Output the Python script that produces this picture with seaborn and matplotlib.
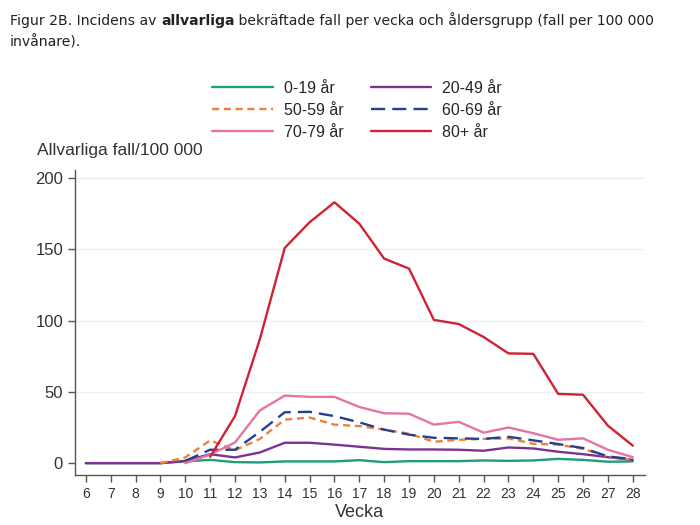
import numpy as np
import pandas as pd
import matplotlib
matplotlib.use("Agg")
import matplotlib.pyplot as plt
import seaborn as sns

# week numbers on the x axis
weeks = [6, 7, 8, 9, 10, 11, 12, 13, 14, 15, 16, 17, 18, 19, 20, 21, 22, 23, 24, 25, 26, 27, 28]
nan = np.nan

# incidence of severe cases per 100 000
age_0_19 = [0, 0, 0, 0, 1.2, 2.3, 0.7, 0.5, 1.2, 1.2, 1.2, 2.1, 0.7, 1.4, 1.4, 1.4, 1.9, 1.6, 1.9, 3, 2.3, 1, 1.2]
age_20_49 = [0, 0, 0, 0, 1.6, 6.3, 4, 7.5, 14.3, 14.3, 13, 11.5, 10, 9.6, 9.6, 9.4, 8.7, 11, 10.3, 8, 6.3, 4.2, 2.3]
age_50_59 = [nan, nan, nan, 0, 4, 16, 9, 17, 30.5, 32, 27, 26, 23.5, 20.7, 15, 16.4, 17, 17.4, 13.6, 13, 10, 4.7, 2.3]
age_60_69 = [nan, nan, nan, nan, 1.6, 9.4, 9.4, 22, 35.7, 36, 33, 28.6, 23.5, 20, 17.8, 17.4, 17, 18.5, 16, 13.4, 10.6, 4.7, 2.8]
age_70_79 = [nan, nan, nan, nan, 0, 6, 14.5, 37, 47.4, 46.5, 46.5, 39.4, 35, 34.7, 27, 29, 21.4, 25, 21, 16.4, 17.4, 9.4, 4.2]
age_80 = [nan, nan, nan, nan, nan, 4.5, 33, 87, 151, 169, 183, 168, 143.5, 136.5, 100.5, 97.6, 88.5, 77, 76.7, 48.6, 48, 26.3, 12.3]

groups = ["0-19 år", "20-49 år", "50-59 år", "60-69 år", "70-79 år", "80+ år"]
series = [age_0_19, age_20_49, age_50_59, age_60_69, age_70_79, age_80]
colors = ["#1f9e7a", "#7b3294", "#f07f3a", "#24408f", "#e474a6", "#cf2234"]
dash_styles = [None, None, (3, 2), (6, 3), None, None]

sns.set_style("white")
plt.rcParams['font.family'] = ['Liberation Sans', 'DejaVu Sans']

fig = plt.figure(figsize=(7, 5.25), dpi=100)
ax = fig.add_axes([0.107, 0.095, 0.814, 0.581])

for y in [50, 100, 150, 200]:
    ax.axhline(y, color="#e9f1f3", lw=1, zorder=0)

lines = {}
for name, vals, col, dsh in zip(groups, series, colors, dash_styles):
    df = pd.DataFrame({'week': weeks, 'value': vals}).dropna()
    sns.lineplot(data=df, x='week', y='value', ax=ax, color=col, lw=1.7, label=name)
    ln = ax.get_lines()[-1]
    if dsh is not None:
        ln.set_dashes(dsh)
    lines[name] = ln

ax.set_xlim(5.56, 28.48)
ax.set_ylim(-8.4, 205.6)
ax.set_xticks(weeks)
ax.set_xticklabels([str(w) for w in weeks], fontsize=10, color="#333333")
ax.set_yticks([0, 50, 100, 150, 200])
ax.set_yticklabels(["0", "50", "100", "150", "200"], fontsize=12, color="#333333")
ax.tick_params(axis='both', direction='out', length=5, width=1, color="#555555", bottom=True, left=True)
ax.set_xlabel("Vecka", fontsize=13, color="#333333", labelpad=2)
ax.set_ylabel("")
for s in ['top', 'right']:
    ax.spines[s].set_visible(False)
for s in ['left', 'bottom']:
    ax.spines[s].set_color("#555555")
    ax.spines[s].set_linewidth(1)

ax.get_legend().remove()
order = ["0-19 år", "50-59 år", "70-79 år", "20-49 år", "60-69 år", "80+ år"]
fig.legend([lines[o] for o in order], order, ncol=2, frameon=False, fontsize=11.5,
           loc='center', bbox_to_anchor=(0.51, 0.79), handlelength=3.8,
           columnspacing=1.7, labelspacing=0.45, handletextpad=0.7)

fig.text(37 / 700, 1 - 150 / 525, "Allvarliga fall/100 000", fontsize=12.5, color="#333333", va='center')

# title with one bold word
fig.canvas.draw()
r = fig.canvas.get_renderer()
x0 = 10 / 700
y0 = 1 - 25 / 525
parts = [("Figur 2B. Incidens av ", 'normal'), ("allvarliga", 'bold'),
         (" bekräftade fall per vecka och åldersgrupp (fall per 100 000", 'normal')]
xx = x0
for txt, wt in parts:
    t = fig.text(xx, y0, txt, fontsize=10.1, fontweight=wt, family='DejaVu Sans', color="#222222", va='baseline')
    bb = t.get_window_extent(renderer=r)
    xx = xx + bb.width / fig.bbox.width
fig.text(x0, 1 - 46 / 525, "invånare).", fontsize=10.1, family='DejaVu Sans', color="#222222", va='baseline')

fig.savefig("out.png", dpi=100)
